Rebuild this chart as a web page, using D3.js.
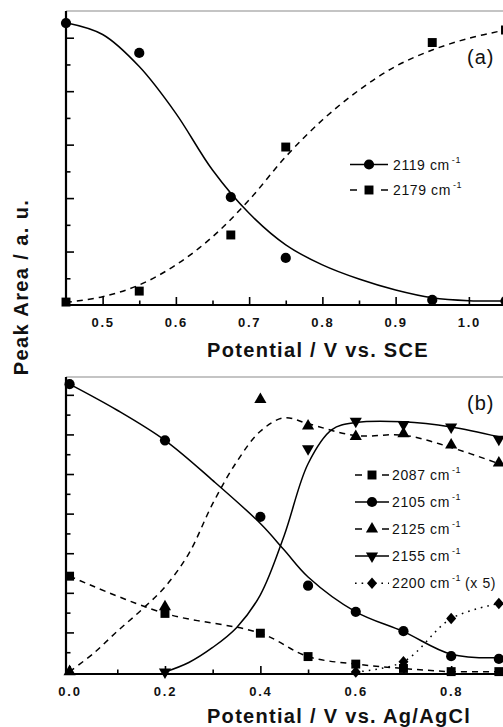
<!DOCTYPE html>
<html>
<head>
<meta charset="utf-8">
<script src="https://cdn.jsdelivr.net/npm/d3@7"></script>
<style>
  html, body { margin: 0; padding: 0; background: #fff; }
  svg { display: block; }
  text { font-family: Arial, "Liberation Sans", sans-serif; fill: #111; }
</style>
</head>
<body>
<svg id="chart" width="503" height="727"></svg>
<script>
// ---------- panel (a): potential vs. SCE ----------
const potentialA = [0.45, 0.55, 0.675, 0.75, 0.95, 1.05];
const area2119 = [1.055, 0.943, 0.404, 0.176, 0.019, 0.015];
const area2179 = [0.011, 0.052, 0.262, 0.591, 0.982, 1.029];
// fitted curves (a)
const fitPotentialA = [0.45, 0.50, 0.55, 0.60, 0.65, 0.70, 0.75, 0.80, 0.85, 0.90, 0.95, 1.00, 1.05];
const fit2119 = [1.056, 1.012, 0.892, 0.717, 0.505, 0.343, 0.225, 0.150, 0.097, 0.056, 0.027, 0.016, 0.015];
const fit2179 = [0.010, 0.031, 0.075, 0.150, 0.255, 0.393, 0.555, 0.692, 0.804, 0.893, 0.954, 0.998, 1.029];
const tickLabelsA = [0.5, 0.6, 0.7, 0.8, 0.9, 1.0];
const minorTicksA = [0.55, 0.65, 0.75, 0.85, 0.95, 1.05];

// ---------- panel (b): potential vs. Ag/AgCl ----------
const potentialB = [0.0, 0.2, 0.4, 0.5, 0.6, 0.7, 0.8, 0.9];
const area2087 = [0.242, 0.148, 0.098, 0.039, 0.020, 0.009, 0.001, 0.001];
const area2105 = [0.727, 0.585, 0.392, 0.218, 0.152, 0.103, 0.040, 0.033];
const area2125 = [0.001, 0.165, 0.688, 0.621, 0.595, 0.602, 0.573, 0.528];
const potential2155 = [0.2, 0.5, 0.6, 0.7, 0.8, 0.9];
const area2155 = [0.000, 0.564, 0.633, 0.625, 0.619, 0.588];
const potential2200 = [0.6, 0.7, 0.8, 0.9];
const area2200 = [0.000, 0.026, 0.135, 0.173];
// fitted curves (b)
const fitPotential2105 = [0.0, 0.1, 0.2, 0.3, 0.4, 0.45, 0.5, 0.6, 0.7, 0.8, 0.9];
const fit2105 = [0.727, 0.661, 0.585, 0.484, 0.375, 0.308, 0.240, 0.152, 0.102, 0.045, 0.036];
const fitPotential2125 = [0.0, 0.05, 0.1, 0.15, 0.2, 0.25, 0.3, 0.35, 0.4, 0.45, 0.5, 0.6, 0.7, 0.8, 0.9];
const fit2125 = [0.001, 0.047, 0.103, 0.156, 0.215, 0.299, 0.425, 0.530, 0.608, 0.642, 0.627, 0.597, 0.598, 0.567, 0.526];
const fitPotential2155 = [0.2, 0.25, 0.3, 0.35, 0.4, 0.45, 0.5, 0.55, 0.6, 0.7, 0.8, 0.9];
const fit2155 = [0.000, 0.024, 0.062, 0.112, 0.195, 0.345, 0.526, 0.612, 0.630, 0.632, 0.619, 0.594];
const tickLabelsB = [0.0, 0.2, 0.4, 0.6, 0.8];
const minorTicksB = [0.1, 0.3, 0.5, 0.7, 0.9];

const svg = d3.select("#chart");
const FONT = 'Arial, "Liberation Sans", sans-serif';

const dashStyles = { solid: null, dashed: "6,5", dotted: "1.6,5" };

// marker shapes
function markerPath(shape) {
  if (shape === "circle") return d3.symbol(d3.symbolCircle, 82)();
  if (shape === "square") return d3.symbol(d3.symbolSquare, 80)();
  if (shape === "up") return d3.symbol(d3.symbolTriangle, 64)();
  if (shape === "down") return d3.symbol(d3.symbolTriangle, 64)();
  if (shape === "diamond") return "M0,-5.8L5,0L0,5.8L-5,0Z";
}
function markerTransform(shape, x, y) {
  return shape === "down" ? `translate(${x},${y}) rotate(180)` : `translate(${x},${y})`;
}

function drawPanel(cfg) {
  const g = svg.append("g");
  const x = d3.scaleLinear().domain(cfg.xDomain).range(cfg.xRange);
  const y = d3.scaleLinear().domain(cfg.yDomain).range(cfg.yRange);
  const [x0] = cfg.xRange;
  const [yb, yt] = cfg.yRange;

  // top frame line
  g.append("line").attr("x1", x0).attr("x2", 503).attr("y1", yt).attr("y2", yt)
    .attr("stroke", "#8a8a8a").attr("stroke-width", 1.2);

  // x axis: major ticks with labels, minor ticks without
  const xMajor = d3.axisBottom(x).tickValues(cfg.xTicks).tickSize(-8).tickSizeOuter(0)
    .tickPadding(13).tickFormat(d3.format(".1f"));
  const xMinor = d3.axisBottom(x).tickValues(cfg.xMinor).tickSize(-4.5).tickSizeOuter(0).tickFormat("");
  const gx = g.append("g").attr("transform", `translate(0,${yb})`).call(xMajor);
  const gxm = g.append("g").attr("transform", `translate(0,${yb})`).call(xMinor);
  [gx, gxm].forEach(a => {
    a.select(".domain").remove();
    a.selectAll(".tick line").attr("stroke", "#000").attr("stroke-width", 1.6);
  });
  gx.selectAll(".tick text")
    .attr("font-family", FONT).attr("font-size", 13).attr("font-weight", "bold")
    .attr("letter-spacing", "1.8px").attr("fill", "#111");

  // y axis: ticks only
  const yMajor = d3.axisLeft(y).tickValues(cfg.yTicks).tickSize(-8).tickSizeOuter(0).tickFormat("");
  const yMinor = d3.axisLeft(y).tickValues(cfg.yMinor).tickSize(-4.5).tickSizeOuter(0).tickFormat("");
  [yMajor, yMinor].forEach(ax => {
    const a = g.append("g").attr("transform", `translate(${x0},0)`).call(ax);
    a.select(".domain").remove();
    a.selectAll(".tick line").attr("stroke", "#000").attr("stroke-width", 1.6);
  });

  // axis lines
  g.append("line").attr("x1", x0).attr("x2", x0).attr("y1", yt).attr("y2", yb + 1)
    .attr("stroke", "#000").attr("stroke-width", 2.2);
  g.append("line").attr("x1", x0 - 1).attr("x2", 503).attr("y1", yb).attr("y2", yb)
    .attr("stroke", "#000").attr("stroke-width", 2.2);

  // curves
  const line = d3.line().x(d => x(d[0])).y(d => y(d[1])).curve(d3.curveCatmullRom.alpha(0.5));
  cfg.series.forEach(s => {
    const pts = d3.zip(s.fitX, s.fitY);
    g.append("path").attr("d", line(pts)).attr("fill", "none")
      .attr("stroke", "#000").attr("stroke-width", 1.5)
      .attr("stroke-dasharray", dashStyles[s.style]);
  });
  // markers
  cfg.series.forEach(s => {
    g.append("g").selectAll("path").data(d3.zip(s.x, s.y)).join("path")
      .attr("d", markerPath(s.shape))
      .attr("transform", d => markerTransform(s.shape, x(d[0]), y(d[1])))
      .attr("fill", "#000");
  });

  // legend
  const L = cfg.legend;
  cfg.series.forEach((s, i) => {
    const ry = L.y[i];
    const lg = g.append("g");
    if (s.style === "solid") {
      lg.append("line").attr("x1", L.x0).attr("x2", L.x1).attr("y1", ry).attr("y2", ry)
        .attr("stroke", "#000").attr("stroke-width", 1.5);
    } else if (s.style === "dashed") {
      [[L.x0, L.x0 + 7], [L.x1 - 7, L.x1]].forEach(([a, b]) =>
        lg.append("line").attr("x1", a).attr("x2", b).attr("y1", ry).attr("y2", ry)
          .attr("stroke", "#000").attr("stroke-width", 1.5));
    } else {
      lg.append("line").attr("x1", L.x0).attr("x2", L.x1).attr("y1", ry).attr("y2", ry)
        .attr("stroke", "#000").attr("stroke-width", 1.5).attr("stroke-dasharray", "1.6,5");
    }
    lg.append("path").attr("d", markerPath(s.shape))
      .attr("transform", markerTransform(s.shape, L.xm, ry)).attr("fill", "#000");
    const t = lg.append("text").attr("x", L.xt).attr("y", ry + 5)
      .attr("font-size", 14).attr("letter-spacing", "0.6px");
    t.append("tspan").text(s.label + " cm");
    t.append("tspan").attr("font-size", 9).attr("dx", 2).attr("dy", -7).text("-1");
    if (s.suffix) t.append("tspan").attr("dy", 7).attr("dx", 4).text(s.suffix);
  });

  // panel tag
  g.append("text").attr("x", cfg.tag.x).attr("y", cfg.tag.y).attr("font-size", 20)
    .attr("letter-spacing", "1px").text(cfg.tag.text);

  // x title
  g.append("text").attr("x", cfg.title.x).attr("y", cfg.title.y)
    .attr("text-anchor", "middle").attr("font-size", 20).attr("font-weight", "bold")
    .attr("letter-spacing", "1.3px").text(cfg.title.text);
}

drawPanel({
  xDomain: [0.45, 1.05], xRange: [66, 505.5],
  yDomain: [0, 1.1], yRange: [305, 11],
  xTicks: tickLabelsA, xMinor: minorTicksA,
  yTicks: [0.2, 0.4, 0.6, 0.8, 1.0], yMinor: [0.1, 0.3, 0.5, 0.7, 0.9],
  series: [
    { label: "2119", shape: "circle", style: "solid", x: potentialA, y: area2119, fitX: fitPotentialA, fitY: fit2119 },
    { label: "2179", shape: "square", style: "dashed", x: potentialA, y: area2179, fitX: fitPotentialA, fitY: fit2179 }
  ],
  legend: { x0: 350, x1: 388, xm: 369, xt: 393, y: [164.5, 190] },
  tag: { text: "(a)", x: 467, y: 64 },
  title: { text: "Potential / V vs. SCE", x: 318, y: 357 }
});

drawPanel({
  xDomain: [-0.0075, 0.92], xRange: [66, 508.4],
  yDomain: [-0.005, 0.745], yRange: [674, 377],
  xTicks: tickLabelsB, xMinor: minorTicksB,
  yTicks: [0.1, 0.2, 0.3, 0.4, 0.5, 0.6, 0.7], yMinor: [0.05, 0.15, 0.25, 0.35, 0.45, 0.55, 0.65],
  series: [
    { label: "2087", shape: "square", style: "dashed", x: potentialB, y: area2087, fitX: potentialB, fitY: area2087 },
    { label: "2105", shape: "circle", style: "solid", x: potentialB, y: area2105, fitX: fitPotential2105, fitY: fit2105 },
    { label: "2125", shape: "up", style: "dashed", x: potentialB, y: area2125, fitX: fitPotential2125, fitY: fit2125 },
    { label: "2155", shape: "down", style: "solid", x: potential2155, y: area2155, fitX: fitPotential2155, fitY: fit2155 },
    { label: "2200", shape: "diamond", style: "dotted", x: potential2200, y: area2200, fitX: potential2200, fitY: area2200, suffix: "(x 5)" }
  ],
  legend: { x0: 355, x1: 389, xm: 372, xt: 392, y: [475, 502, 529, 556, 583.3] },
  tag: { text: "(b)", x: 467, y: 410 },
  title: { text: "Potential / V vs. Ag/AgCl", x: 339, y: 723 }
});

// shared y-axis title
svg.append("text")
  .attr("transform", "translate(28,287) rotate(-90)")
  .attr("text-anchor", "middle").attr("font-size", 20).attr("font-weight", "bold")
  .attr("letter-spacing", "1.4px").text("Peak Area / a. u.");
</script>
</body>
</html>
